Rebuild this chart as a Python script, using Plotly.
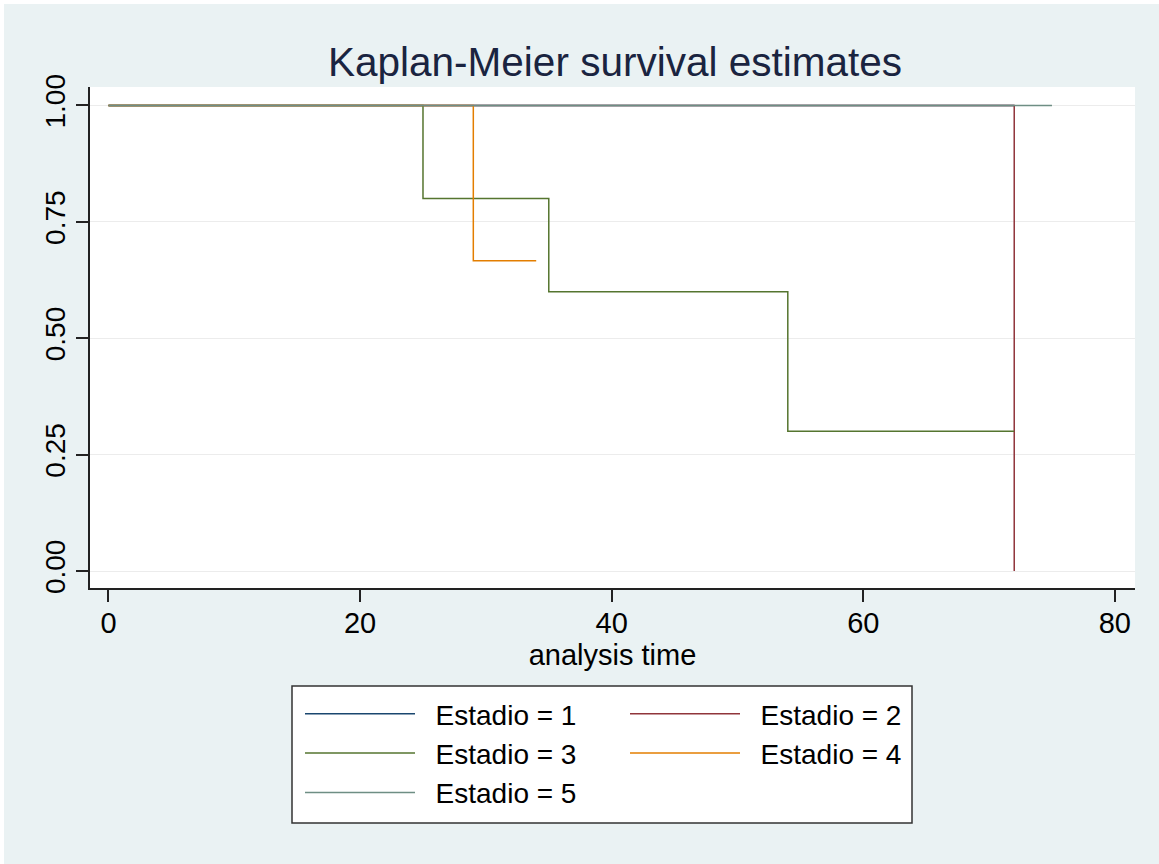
import plotly.graph_objects as go

# Data (Kaplan-Meier step functions)
groups = ["Estadio = 1", "Estadio = 2", "Estadio = 3", "Estadio = 4", "Estadio = 5"]
time_1 = [0, 72]
surv_1 = [1.0, 1.0]
time_2 = [0, 72]
surv_2 = [1.0, 0.0]
time_3 = [0, 25, 35, 54, 72]
surv_3 = [1.0, 0.8, 0.6, 0.3, 0.3]
time_4 = [0, 29, 34]
surv_4 = [1.0, 0.6667, 0.6667]
time_5 = [0, 75]
surv_5 = [1.0, 1.0]

x_ticks = [0, 20, 40, 60, 80]
y_ticks = [0.0, 0.25, 0.5, 0.75, 1.0]
y_tick_labels = ["0.00", "0.25", "0.50", "0.75", "1.00"]

colors = ["#1a476f", "#90353b", "#55752f", "#e37e00", "#6e8e84"]
legend_column = ["legend", "legend2", "legend", "legend2", "legend"]
times = [time_1, time_2, time_3, time_4, time_5]
survs = [surv_1, surv_2, surv_3, surv_4, surv_5]

FONT = "Arial, Liberation Sans, Helvetica, sans-serif"
NBSP = "\u00a0\u00a0"

fig = go.Figure()
for name, t, s, c, lg in zip(groups, times, survs, colors, legend_column):
    fig.add_trace(go.Scatter(
        x=t, y=s, mode="lines", name=NBSP + name, legend=lg,
        line=dict(color=c, width=1.5, shape="hv"),
    ))

W, H = 1159, 864
ml, mr, mt, mb = 90, 24, 87, 276
pw = W - ml - mr
ph = H - mt - mb

def px_to_paper_x(px):
    return (px - ml) / pw

def px_to_paper_y(py):
    return (H - mb - py) / ph

legend_common = dict(
    orientation="v",
    yanchor="top", xanchor="left",
    bgcolor="rgba(0,0,0,0)", borderwidth=0,
    font=dict(family=FONT, size=28, color="black"),
    itemwidth=110, tracegroupgap=0,
)

fig.update_layout(
    width=W, height=H,
    margin=dict(l=ml, r=mr, t=mt, b=mb, pad=0),
    paper_bgcolor="white",
    plot_bgcolor="white",
    font=dict(family=FONT, size=28, color="black"),
    title=dict(
        text="Kaplan-Meier survival estimates",
        x=px_to_paper_x(615), xref="paper", xanchor="center",
        y=1 - 62 / H, yref="container", yanchor="middle",
        font=dict(family=FONT, size=40.5, color="#1a2440"),
    ),
    showlegend=True,
    legend=dict(x=px_to_paper_x(300), y=px_to_paper_y(689), **legend_common),
    legend2=dict(x=px_to_paper_x(625), y=px_to_paper_y(689), **legend_common),
    shapes=[
        dict(type="rect", xref="paper", yref="paper", layer="below",
             x0=px_to_paper_x(4), x1=px_to_paper_x(1159),
             y0=px_to_paper_y(864), y1=px_to_paper_y(4),
             fillcolor="#eaf2f3", line=dict(width=0)),
        dict(type="rect", xref="paper", yref="paper", layer="below",
             x0=0, x1=1, y0=0, y1=1,
             fillcolor="white", line=dict(width=0)),
        dict(type="rect", xref="paper", yref="paper", layer="below",
             x0=px_to_paper_x(292), x1=px_to_paper_x(912),
             y0=px_to_paper_y(823), y1=px_to_paper_y(686),
             fillcolor="white", line=dict(color="#333333", width=1.5)),
    ],
)

fig.update_xaxes(
    range=[-1.47, 81.6],
    tickvals=x_ticks,
    ticks="outside", ticklen=12, tickwidth=1.5, tickcolor="#222222",
    ticklabelstandoff=-4,
    showline=True, linecolor="#222222", linewidth=1.5,
    showgrid=False, zeroline=False,
    tickfont=dict(family=FONT, size=29, color="black"),
    title=dict(text="analysis time", standoff=4,
               font=dict(family=FONT, size=29, color="black")),
)
fig.update_yaxes(
    range=[-0.0365, 1.0397],
    tickvals=y_ticks, ticktext=y_tick_labels,
    tickangle=-90,
    ticks="outside", ticklen=12, tickwidth=1.5, tickcolor="#222222",
    showline=True, linecolor="#222222", linewidth=1.5,
    showgrid=True, gridcolor="#ececec", gridwidth=1,
    zeroline=False,
    tickfont=dict(family=FONT, size=28, color="black"),
)

fig.write_html("out.html")
